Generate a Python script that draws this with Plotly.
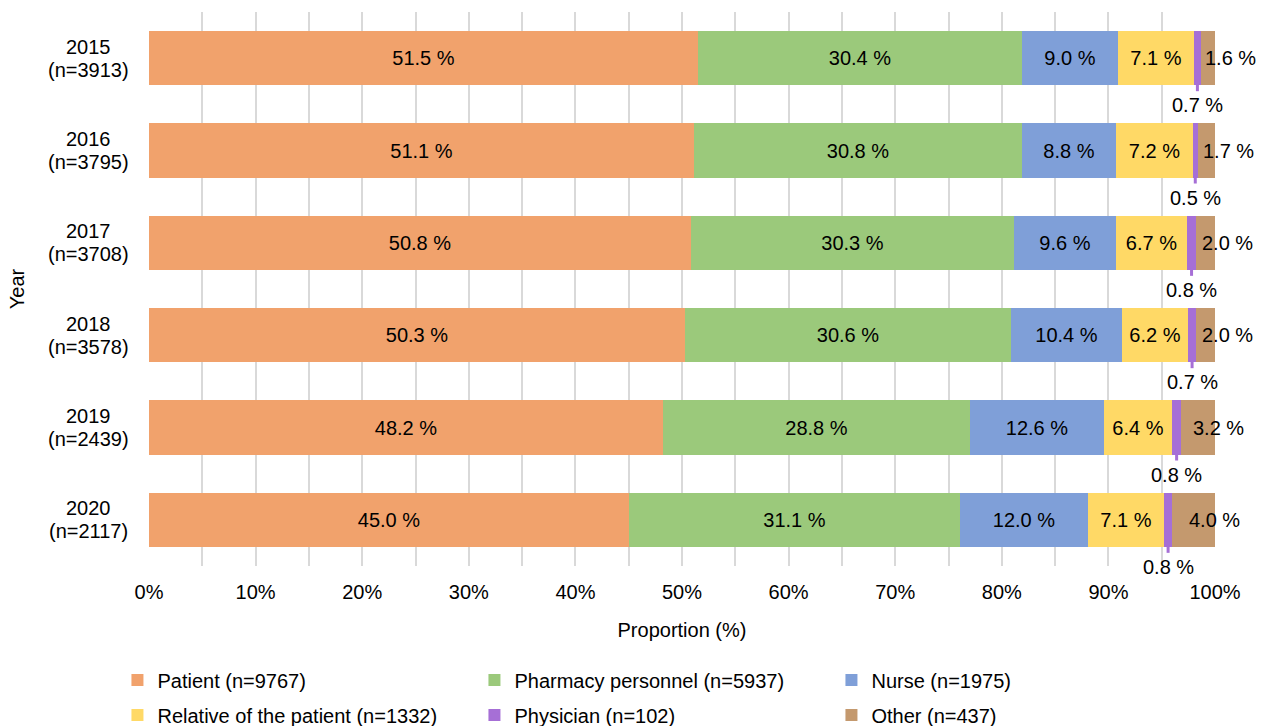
import plotly.graph_objects as go

# Reporter shares per year (percent of reports)
years = ["2015", "2016", "2017", "2018", "2019", "2020"]
year_n = [3913, 3795, 3708, 3578, 2439, 2117]

patient = [51.5, 51.1, 50.8, 50.3, 48.2, 45.0]
pharmacy = [30.4, 30.8, 30.3, 30.6, 28.8, 31.1]
nurse = [9.0, 8.8, 9.6, 10.4, 12.6, 12.0]
relative = [7.1, 7.2, 6.7, 6.2, 6.4, 7.1]
physician = [0.7, 0.5, 0.8, 0.7, 0.8, 0.8]
other = [1.6, 1.7, 2.0, 2.0, 3.2, 4.0]

series_names = [
    "Patient (n=9767)",
    "Pharmacy personnel (n=5937)",
    "Nurse (n=1975)",
    "Relative of the patient (n=1332)",
    "Physician (n=102)",
    "Other (n=437)",
]
series_values = [patient, pharmacy, nurse, relative, physician, other]
colors = ["#F1A26C", "#9BC97B", "#7F9FD8", "#FFD966", "#A66FD6", "#C4996E"]

FONT = "Liberation Sans, Arial, sans-serif"
BAR_W = 0.585
ypos = list(range(len(years)))

fig = go.Figure()
for k, (name, vals, col) in enumerate(zip(series_names, series_values, colors)):
    inside = k < 4
    fig.add_trace(go.Bar(
        x=vals, y=ypos, orientation="h", name=name,
        marker=dict(color=col, line=dict(width=0)),
        width=BAR_W,
        text=[f"{v:.1f} %" for v in vals] if inside else None,
        textposition="inside" if inside else "none",
        insidetextanchor="middle", textangle=0,
        textfont=dict(family=FONT, size=20, color="black"),
        legend="legend" if k < 3 else "legend2",
        hovertemplate="%{x:.1f} %<extra>" + name + "</extra>",
    ))

annotations = []
shapes = []
for i, yr in enumerate(years):
    start_phys = patient[i] + pharmacy[i] + nurse[i] + relative[i]
    phys_c = start_phys + physician[i] / 2
    other_c = start_phys + physician[i] + other[i] / 2
    # Physician label sits under the bar with a short leader line
    shapes.append(dict(type="line", xref="x", yref="y",
                       x0=phys_c, x1=phys_c,
                       y0=i + BAR_W / 2 - 0.01, y1=i + BAR_W / 2 + 0.065,
                       line=dict(color=colors[4], width=3)))
    annotations.append(dict(x=phys_c, y=i, xref="x", yref="y",
                            text=f"{physician[i]:.1f} %", showarrow=False,
                            yshift=-47, xanchor="center", yanchor="middle",
                            font=dict(family=FONT, size=20, color="black")))
    # Other label shifted to the right of its narrow segment
    annotations.append(dict(x=other_c, y=i, xref="x", yref="y",
                            text=f"{other[i]:.1f} %", showarrow=False,
                            xshift=21, xanchor="center", yanchor="middle",
                            font=dict(family=FONT, size=20, color="black")))
    # Centered two-line category labels (year over report count)
    for line_text, dy in ((yr, 11.5), (f"(n={year_n[i]})", -11.5)):
        annotations.append(dict(x=0, y=i, xref="paper", yref="y",
                                text=line_text, showarrow=False,
                                xshift=-61, yshift=dy,
                                xanchor="center", yanchor="middle",
                                font=dict(family=FONT, size=20, color="black")))

legend_common = dict(orientation="h", xanchor="left", yanchor="middle",
                     entrywidth=312, entrywidthmode="pixels",
                     font=dict(family=FONT, size=20, color="black"),
                     itemwidth=30, traceorder="normal",
                     bgcolor="rgba(0,0,0,0)")

fig.update_layout(
    width=1263, height=726,
    barmode="stack",
    plot_bgcolor="white", paper_bgcolor="white",
    margin=dict(l=149, r=48, t=12, b=160, autoexpand=False),
    font=dict(family=FONT, size=20, color="black"),
    xaxis=dict(
        range=[0, 100], dtick=10, ticksuffix="%",
        showgrid=True, gridcolor="#D9D9D9", gridwidth=2,
        minor=dict(dtick=5, showgrid=True, gridcolor="#D9D9D9", gridwidth=2),
        zeroline=False, showline=False, ticks="",
        ticklabelstandoff=12,
        tickfont=dict(family=FONT, size=20, color="black"),
        title=dict(text="Proportion (%)", standoff=20,
                   font=dict(family=FONT, size=20, color="black")),
    ),
    yaxis=dict(
        range=[5.5, -0.5], tickvals=ypos, showticklabels=False,
        showgrid=False, zeroline=False, showline=False,
        title=dict(text="Year", standoff=118,
                   font=dict(family=FONT, size=20, color="black")),
    ),
    legend=dict(x=-0.0296, y=-0.206, **legend_common),
    legend2=dict(x=-0.0296, y=-0.269, **legend_common),
    annotations=annotations,
    shapes=shapes,
    bargap=0,
)

fig.write_html("out.html")
